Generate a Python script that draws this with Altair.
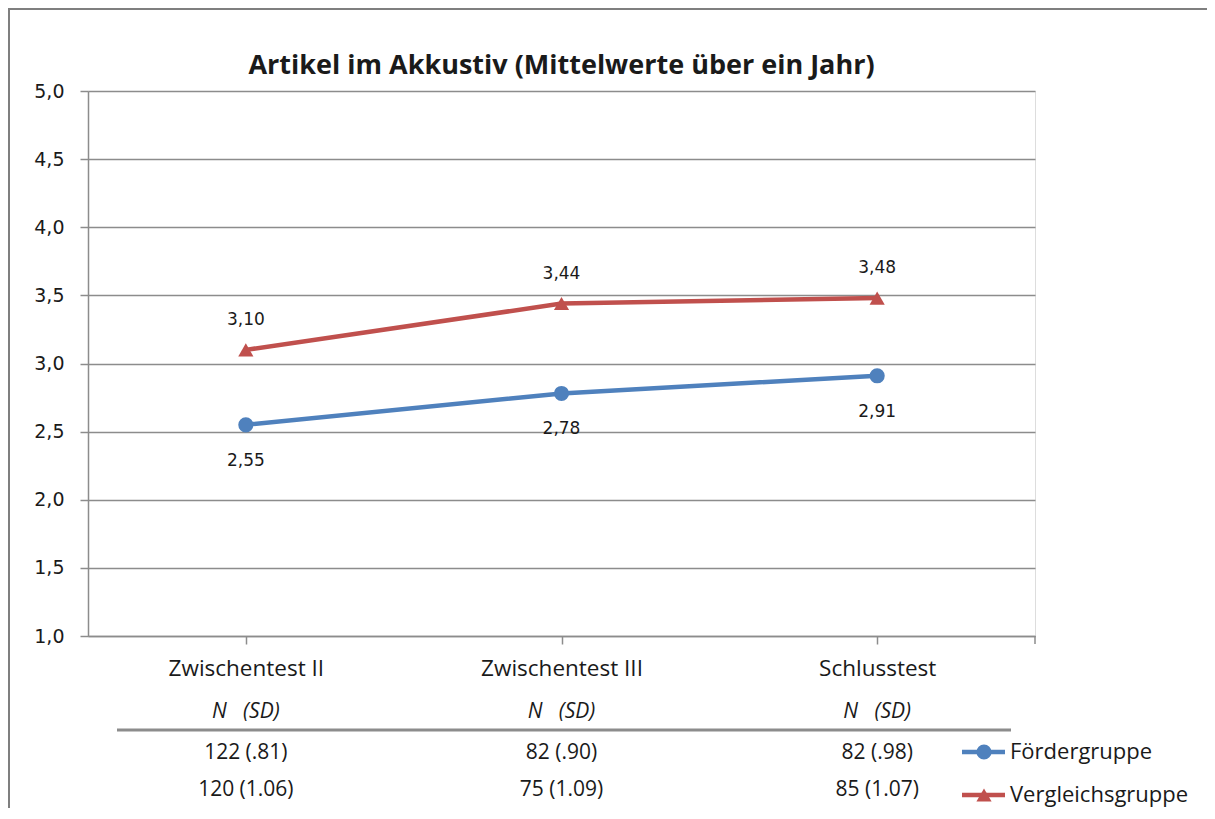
import altair as alt
import pandas as pd

title = "Artikel im Akkustiv (Mittelwerte über ein Jahr)"
cats = ["Zwischentest II", "Zwischentest III", "Schlusstest"]
series = ["Fördergruppe", "Vergleichsgruppe"]
foerder = [2.55, 2.78, 2.91]
vergleich = [3.10, 3.44, 3.48]
foerder_nsd = ["122 (.81)", "82 (.90)", "82 (.98)"]
vergleich_nsd = ["120 (1.06)", "75 (1.09)", "85 (1.07)"]
y_ticks = [1.0, 1.5, 2.0, 2.5, 3.0, 3.5, 4.0, 4.5, 5.0]
header = "N\u00a0\u00a0\u00a0(SD)"
colors = ["#4F81BD", "#C0504D"]
shapes = ["circle", "triangle-up"]

W, H = 947, 545
PAD = {"left": 80, "top": 83, "right": 172, "bottom": 172}

rows = []
for s, vals, nsd in [(series[0], foerder, foerder_nsd), (series[1], vergleich, vergleich_nsd)]:
    for c, v, n in zip(cats, vals, nsd):
        rows.append({"cat": c, "series": s, "value": v,
                     "label": f"{v:.2f}".replace(".", ","), "nsd": n})
df = pd.DataFrame(rows)
leg = pd.DataFrame({"series": series})
hdr = pd.DataFrame({"cat": cats, "h": [header] * len(cats)})

TXT = "Open Sans"
NUM = "DejaVu Sans"
INK = "#1a1a1a"
GRID = "#8c8c8c"

xenc = alt.X("cat:N", sort=cats,
             scale=alt.Scale(paddingInner=0, paddingOuter=0),
             axis=alt.Axis(title=None, bandPosition=0, tickSize=8, tickColor=GRID,
                           tickWidth=1.5, domainColor=GRID, domainWidth=1.5,
                           labelFont=TXT, labelFontSize=22.5, labelColor=INK,
                           labelPadding=13, labelAngle=0, grid=False))
yenc = alt.Y("value:Q", scale=alt.Scale(domain=[1, 5], nice=False, zero=False),
             axis=alt.Axis(title=None, values=y_ticks, tickSize=8, tickColor=GRID,
                           tickWidth=1.5, domainColor=GRID, domainWidth=1.5,
                           gridColor=GRID, gridWidth=1.5, grid=True,
                           labelExpr="replace(format(datum.value, '.1f'), '.', ',')",
                           labelFont=NUM, labelFontSize=19,
                           labelColor=INK, labelPadding=16))
color = alt.Color("series:N", scale=alt.Scale(domain=series, range=colors), legend=None)
shape = alt.Shape("series:N", scale=alt.Scale(domain=series, range=shapes), legend=None)

base = alt.Chart(df)
lines = base.mark_line(strokeWidth=4.5).encode(x=xenc, y=yenc, color=color)
pts = base.mark_point(filled=True, size=230, opacity=1).encode(x=xenc, y=yenc, color=color, shape=shape)

lab_f = base.transform_filter(alt.datum.series == series[0]).mark_text(
    font=NUM, fontSize=17, color=INK, dy=36).encode(x=xenc, y=yenc, text="label:N")
lab_v = base.transform_filter(alt.datum.series == series[1]).mark_text(
    font=NUM, fontSize=17, color=INK, dy=-30).encode(x=xenc, y=yenc, text="label:N")

xcat = alt.X("cat:N", sort=cats)
hdr_txt = alt.Chart(hdr).mark_text(font=TXT, fontSize=21, fontStyle="italic",
                                   color=INK).encode(x=xcat, y=alt.value(621), text="h:N")
sep = alt.Chart(hdr.head(1)).mark_rule(color=GRID, strokeWidth=3).encode(
    x=alt.value(29), x2=alt.value(923), y=alt.value(639))
row_f = base.transform_filter(alt.datum.series == series[0]).mark_text(
    font=TXT, fontSize=21, color=INK).encode(x=xcat, y=alt.value(662), text="nsd:N")
row_v = base.transform_filter(alt.datum.series == series[1]).mark_text(
    font=TXT, fontSize=21, color=INK).encode(x=xcat, y=alt.value(699), text="nsd:N")

end_tick = alt.Chart(hdr.head(1)).mark_rule(color=GRID, strokeWidth=1.5).encode(
    x=alt.value(W), y=alt.value(H), y2=alt.value(H + 8))

# legend (one entry per series)
legend_layers = []
for s, ly in zip(series, [661, 704]):
    src = alt.Chart(leg).transform_filter(alt.datum.series == s)
    legend_layers += [
        src.mark_rule(strokeWidth=4.5).encode(x=alt.value(874), x2=alt.value(917),
                                              y=alt.value(ly), color=color),
        src.mark_point(filled=True, size=230, opacity=1).encode(
            x=alt.value(896), y=alt.value(ly), color=color, shape=shape),
        src.mark_text(align="left", font=TXT, fontSize=22, color=INK).encode(
            x=alt.value(922), y=alt.value(ly), text="series:N"),
    ]

frame = alt.Chart(hdr.head(1)).mark_rect(fill=None, stroke="#7f7f7f", strokeWidth=2).encode(
    x=alt.value(-79), x2=alt.value(W + PAD["right"] + 20), y=alt.value(-82), y2=alt.value(H + 300))

chart = alt.layer(
    frame, lines, pts, lab_f, lab_v, hdr_txt, sep, row_f, row_v, end_tick,
    *legend_layers
).properties(
    width=W, height=H,
    title=alt.TitleParams(title, font=TXT, fontSize=27, fontWeight="bold",
                          color=INK, anchor="middle", offset=6, baseline="middle", dy=91),
    autosize=alt.AutoSizeParams(type="none"),
    padding=PAD,
).configure_view(stroke=None).configure(background="white")

chart.save("out.html", embed_options={"renderer": "svg", "actions": False})
